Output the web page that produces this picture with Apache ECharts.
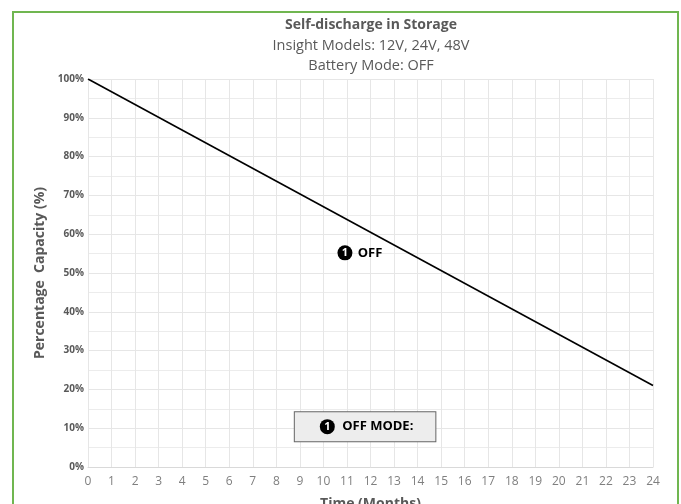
<!DOCTYPE html>
<html>
<head>
<meta charset="utf-8">
<script src="https://cdn.jsdelivr.net/npm/echarts@6/dist/echarts.min.js"></script>
<style>
html,body{margin:0;padding:0;background:#fff;}
#frame{position:absolute;left:12px;top:11px;width:667px;height:500px;border:2px solid #70b650;box-sizing:border-box;}
#chart{position:absolute;left:0;top:0;width:681px;height:504px;}
</style>
</head>
<body>
<div id="frame"></div>
<div id="chart"></div>
<script>
// Self-discharge in storage, OFF mode
var months = ['0','1','2','3','4','5','6','7','8','9','10','11','12','13','14','15','16','17','18','19','20','21','22','23','24'];
var offPoints = [[0, 100], [24, 21]];
var yTicks = [0, 10, 20, 30, 40, 50, 60, 70, 80, 90, 100];
var offLabelAt = [11.55, 55.2];
var modeBoxAt = [11.77, 10.4];

var fontFam = '"Open Sans", "Liberation Sans", sans-serif';
var chart = echarts.init(document.getElementById('chart'));
var option = {
	animation: false,
	title: [{
		text: 'Self-discharge in Storage',
		left: 366, top: 13, textAlign: 'center',
		textStyle: {color: '#595959', fontSize: 14, fontWeight: 'bold', fontFamily: fontFam}
	}, {
		text: 'Insight Models: 12V, 24V, 48V',
		left: 366, top: 33, textAlign: 'center',
		textStyle: {color: '#595959', fontSize: 14.5, fontWeight: 'normal', fontFamily: fontFam}
	}, {
		text: 'Battery Mode: OFF',
		left: 366, top: 53, textAlign: 'center',
		textStyle: {color: '#595959', fontSize: 14.5, fontWeight: 'normal', fontFamily: fontFam}
	}],
	grid: {left: 88, right: 28, top: 79, bottom: 37, outerBoundsMode: 'none', containLabel: false},
	xAxis: {
		type: 'value', min: 0, max: 24, interval: 1,
		name: 'Time (Months)', nameLocation: 'middle', nameGap: 30,
		nameTextStyle: {color: '#595959', fontSize: 14, fontWeight: 'bold', fontFamily: fontFam},
		axisLine: {show: true, lineStyle: {color: '#d9d9d9'}},
		axisTick: {show: false},
		axisLabel: {color: '#7f7f7f', fontSize: 12, fontFamily: fontFam, margin: 9,
			formatter: function(v){ return months[v]; }},
		splitLine: {show: true, lineStyle: {color: '#e6e6e6', width: 1}}
	},
	yAxis: {
		type: 'value', min: 0, max: 100, interval: 10,
		name: 'Percentage  Capacity (%)', nameLocation: 'middle', nameGap: 37,
		nameTextStyle: {color: '#595959', fontSize: 14, fontWeight: 'bold', fontFamily: fontFam},
		axisLine: {show: false},
		axisTick: {show: false},
		axisLabel: {color: '#595959', fontSize: 10, fontWeight: 'bold', fontFamily: fontFam, margin: 4,
			formatter: function(v){ return yTicks.indexOf(v) >= 0 ? v + '%' : ''; }},
		splitLine: {show: true, lineStyle: {color: '#e6e6e6', width: 1}},
		minorTick: {show: false, splitNumber: 2},
		minorSplitLine: {show: true, lineStyle: {color: '#ececec', width: 1}}
	},
	series: [{
		name: 'OFF',
		type: 'line',
		data: offPoints,
		symbol: 'none',
		lineStyle: {color: '#000', width: 1.6},
		markPoint: {
			silent: true,
			data: [{
				coord: offLabelAt, symbol: 'rect', symbolSize: 0,
				label: {show: true, position: 'inside',
					formatter: '{n|1} {t|OFF}',
					rich: {
						n: {backgroundColor: '#000', color: '#fff', borderRadius: 8, width: 15, height: 15, lineHeight: 15,
							align: 'center', fontSize: 11, fontWeight: 'bold', fontFamily: fontFam},
						t: {color: '#000', fontSize: 13, fontWeight: 'bold', fontFamily: fontFam, padding: [0, 0, 0, 2]}
					}}
			}, {
				coord: modeBoxAt, symbol: 'rect', symbolSize: 0,
				label: {show: true, position: 'inside',
					backgroundColor: '#ededed', borderColor: '#666', borderWidth: 1,
					padding: [7, 22, 7, 25],
					formatter: '{n|1} {t|OFF MODE:}',
					rich: {
						n: {backgroundColor: '#000', color: '#fff', borderRadius: 8, width: 15, height: 15, lineHeight: 15,
							align: 'center', fontSize: 11, fontWeight: 'bold', fontFamily: fontFam},
						t: {color: '#000', fontSize: 13, fontWeight: 'bold', fontFamily: fontFam, padding: [0, 0, 0, 4]}
					}}
			}]
		}
	}]
};
chart.setOption(option, true);
</script>
</body>
</html>
